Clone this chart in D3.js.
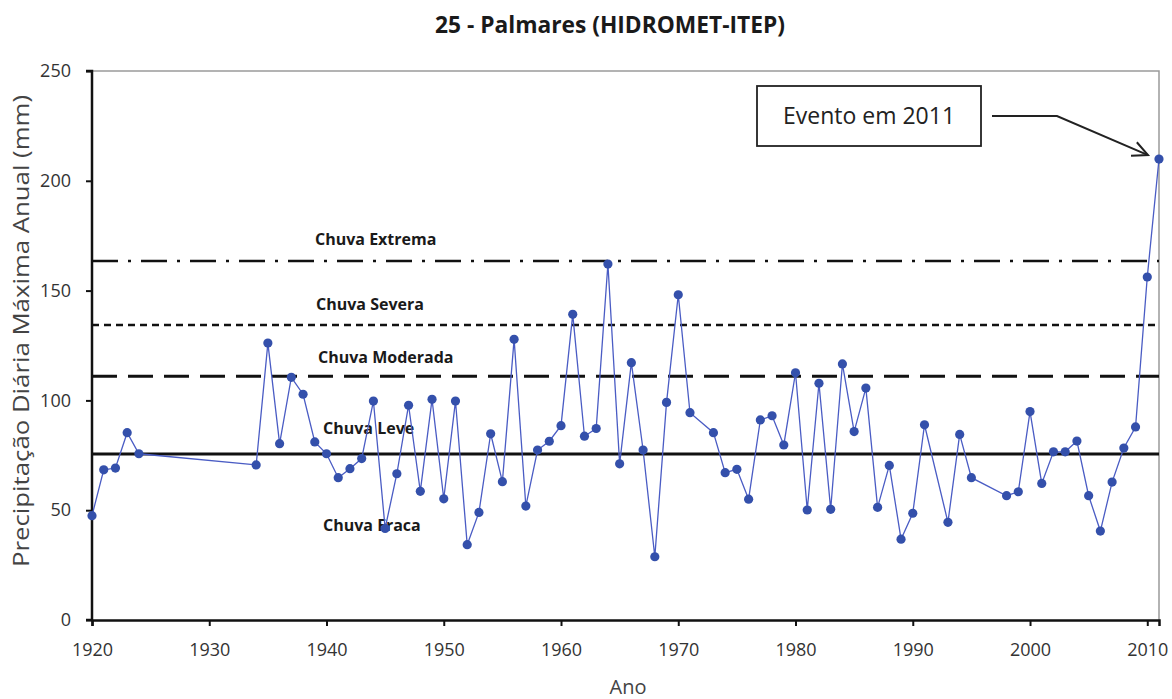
<!DOCTYPE html>
<html>
<head>
<meta charset="utf-8">
<script src="https://cdn.jsdelivr.net/npm/d3@7"></script>
<style>
  html, body { margin: 0; padding: 0; background: #fff; }
  svg { display: block; font-family: "Open Sans", "Noto Sans", sans-serif; }
</style>
</head>
<body>
<svg id="chart" width="1172" height="699"></svg>
<script>
// Annual maximum daily rainfall, Palmares station
const years = [
  1920, 1921, 1922, 1923, 1924,
  1934, 1935, 1936, 1937, 1938, 1939,
  1940, 1941, 1942, 1943, 1944, 1945, 1946, 1947, 1948, 1949,
  1950, 1951, 1952, 1953, 1954, 1955, 1956, 1957, 1958, 1959,
  1960, 1961, 1962, 1963, 1964, 1965, 1966, 1967, 1968, 1969,
  1970, 1971, 1973, 1974, 1975, 1976, 1977, 1978, 1979,
  1980, 1981, 1982, 1983, 1984, 1985, 1986, 1987, 1988, 1989,
  1990, 1991, 1993, 1994, 1995, 1998, 1999,
  2000, 2001, 2002, 2003, 2004, 2005, 2006, 2007, 2008, 2009,
  2010, 2011
];
const maxRain = [
  47.5, 68.4, 69.2, 85.3, 75.7,
  70.6, 126.1, 80.3, 110.5, 102.8, 81.1,
  75.7, 64.8, 68.9, 73.5, 99.7, 41.7, 66.6, 97.8, 58.6, 100.5,
  55.2, 99.7, 34.3, 49.0, 84.8, 63.0, 127.8, 51.9, 77.4, 81.4,
  88.5, 139.2, 83.7, 87.2, 162.1, 71.1, 117.2, 77.4, 28.8, 99.1,
  148.1, 94.4, 85.3, 67.1, 68.6, 55.0, 91.1, 93.0, 79.7,
  112.6, 50.1, 107.8, 50.4, 116.6, 85.8, 105.6, 51.3, 70.4, 36.8,
  48.6, 88.9, 44.5, 84.5, 64.8, 56.6, 58.4,
  94.9, 62.2, 76.6, 76.6, 81.5, 56.6, 40.5, 62.8, 78.3, 87.9,
  156.2, 209.9
];

// Rainfall class thresholds (mm)
const classNames = ["Chuva Extrema", "Chuva Severa", "Chuva Moderada", "Chuva Leve"];
const classLimits = [163.5, 134.3, 111.0, 75.6];
const lowestClass = "Chuva Fraca";

const xTicks = [1920, 1930, 1940, 1950, 1960, 1970, 1980, 1990, 2000, 2010];
const yTicks = [0, 50, 100, 150, 200, 250];

const titleText = "25 - Palmares (HIDROMET-ITEP)";
const xTitle = "Ano";
const yTitle = "Precipitação Diária Máxima Anual (mm)";
const noteText = "Evento em 2011";
const noteYear = 2011;

const svg = d3.select("#chart");
const plot = { left: 92, right: 1159, top: 71, bottom: 620 };

const x = d3.scaleLinear().domain([1920, 2011]).range([plot.left, plot.right]);
const y = d3.scaleLinear().domain([0, 250]).range([plot.bottom, plot.top]);

// Frame (light grey on top and right)
svg.append("path")
  .attr("d", `M${plot.left},${plot.top}H${plot.right}V${plot.bottom}`)
  .attr("fill", "none").attr("stroke", "#9a9a9a").attr("stroke-width", 1.5);

// Axes
const yAxis = svg.append("g")
  .attr("transform", `translate(${plot.left},0)`)
  .call(d3.axisLeft(y).tickValues(yTicks).tickSize(6).tickPadding(15));
const xAxis = svg.append("g")
  .attr("transform", `translate(0,${plot.bottom})`)
  .call(d3.axisBottom(x).tickValues(xTicks).tickFormat(d3.format("d")).tickSize(6).tickPadding(17));

[yAxis, xAxis].forEach(g => {
  g.select(".domain").attr("stroke", "#111").attr("stroke-width", 2.5);
  g.selectAll(".tick line").attr("stroke", "#111").attr("stroke-width", 2);
  g.selectAll(".tick text").attr("fill", "#333").attr("font-size", 18)
    .attr("font-family", "'Open Sans', sans-serif");
});
yAxis.select(".domain").attr("d", `M-6,${plot.bottom}H0V${plot.top}H-6`);

// Threshold lines
const dashes = ["26 10 3 10", "7 5", "25 11", null];
const widths = [2.5, 2.5, 3, 3];
svg.append("g").selectAll("line")
  .data(classLimits)
  .join("line")
  .attr("x1", plot.left).attr("x2", plot.right)
  .attr("y1", d => y(d)).attr("y2", d => y(d))
  .attr("stroke", "#111")
  .attr("stroke-width", (d, i) => widths[i])
  .attr("stroke-dasharray", (d, i) => dashes[i]);

// Class labels
const labelX = [315, 316, 318, 323];
const labelLift = [16, 15, 13, 20];
const labels = svg.append("g")
  .attr("font-size", 16).attr("font-weight", 700).attr("fill", "#1a1a1a");
labels.selectAll("text")
  .data(classNames)
  .join("text")
  .attr("x", (d, i) => labelX[i])
  .attr("y", (d, i) => y(classLimits[i]) - labelLift[i])
  .text(d => d);

// Series line and points
const pts = years.map((yr, i) => ({ yr, v: maxRain[i] }));
svg.append("path")
  .datum(pts)
  .attr("fill", "none")
  .attr("stroke", "#4a5cc4")
  .attr("stroke-width", 1.3)
  .attr("d", d3.line().x(d => x(d.yr)).y(d => y(d.v)));
svg.append("g").selectAll("circle")
  .data(pts)
  .join("circle")
  .attr("cx", d => x(d.yr)).attr("cy", d => y(d.v))
  .attr("r", 4.6)
  .attr("fill", "#3450ab");

// Lowest class label drawn over the series
labels.append("text")
  .attr("x", 323)
  .attr("y", y(classLimits[3]) + 77)
  .text(lowestClass);

// Annotation for the 2011 event
const noteV = maxRain[years.indexOf(noteYear)];
const tipX = x(noteYear) - 11, tipY = y(noteV) - 4;
const boxX = 757, boxY = 86, boxW = 224, boxH = 60;
svg.append("rect")
  .attr("x", boxX).attr("y", boxY).attr("width", boxW).attr("height", boxH)
  .attr("fill", "#fff").attr("stroke", "#222").attr("stroke-width", 1.8);
svg.append("text")
  .attr("x", boxX + boxW / 2).attr("y", boxY + 38)
  .attr("text-anchor", "middle").attr("font-size", 23).attr("fill", "#222")
  .text(noteText);
const arrow = svg.append("g").attr("fill", "none").attr("stroke", "#222")
  .attr("stroke-width", 2).attr("stroke-linejoin", "miter");
arrow.append("path")
  .attr("d", `M${boxX + boxW + 11},${boxY + 30}H1057L${tipX},${tipY}`);
// Open arrowhead
const ang = Math.atan2(tipY - (boxY + 30), tipX - 1057);
const hl = 17, spread = 0.45;
arrow.append("path")
  .attr("d", `M${tipX - hl * Math.cos(ang - spread)},${tipY - hl * Math.sin(ang - spread)}` +
             `L${tipX},${tipY}` +
             `L${tipX - hl * Math.cos(ang + spread)},${tipY - hl * Math.sin(ang + spread)}`);

// Titles
svg.append("text")
  .attr("x", 610).attr("y", 33)
  .attr("text-anchor", "middle").attr("font-size", 23).attr("font-weight", 700)
  .attr("fill", "#1a1a1a")
  .attr("textLength", 350).attr("lengthAdjust", "spacingAndGlyphs")
  .text(titleText);
svg.append("text")
  .attr("x", 628).attr("y", 694)
  .attr("text-anchor", "middle").attr("font-size", 20).attr("fill", "#444")
  .text(xTitle);
svg.append("text")
  .attr("transform", `translate(29,331) rotate(-90)`)
  .attr("text-anchor", "middle").attr("font-size", 22).attr("fill", "#444")
  .attr("textLength", 472).attr("lengthAdjust", "spacingAndGlyphs")
  .text(yTitle);
</script>
</body>
</html>
